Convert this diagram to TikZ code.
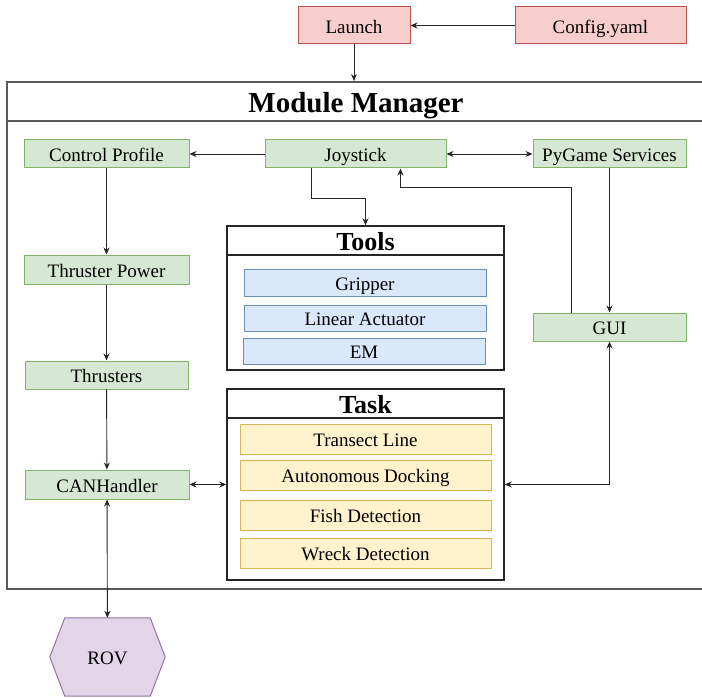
\documentclass[tikz,border=0pt]{standalone}
\usepackage{fontspec}
\setmainfont{Liberation Serif}
\newfontfamily\diagramfont{Liberation Serif}
\usepackage{xcolor}
\usepackage{tikz}
\usetikzlibrary{arrows.meta}
\usetikzlibrary{backgrounds}
\definecolor{redfill}{HTML}{F8CECC}
\definecolor{redline}{HTML}{B85450}
\definecolor{greenfill}{HTML}{D5E8D4}
\definecolor{greenline}{HTML}{82B366}
\definecolor{bluefill}{HTML}{DAE8FC}
\definecolor{blueline}{HTML}{6C8EBF}
\definecolor{yellowfill}{HTML}{FFF2CC}
\definecolor{yellowline}{HTML}{D6B656}
\definecolor{purplefill}{HTML}{E1D5E7}
\definecolor{purpleline}{HTML}{9673A6}
\tikzset{box/.style={draw, line width=1pt, inner sep=0pt, minimum height=28, text height=15.5, text depth=0, font=\diagramfont\fontsize{19}{22}\selectfont}}
\tikzset{redbox/.style={box, fill=redfill, draw=redline, minimum height=37}}
\tikzset{modbox/.style={box, fill=greenfill, draw=greenline}}
\tikzset{toolbox/.style={box, fill=bluefill, draw=blueline, minimum width=242, minimum height=26}}
\tikzset{taskbox/.style={box, fill=yellowfill, draw=yellowline, minimum width=251, minimum height=30}}
\tikzset{group/.style={draw=black!85, line width=1.5pt, inner sep=0pt, minimum width=277}}
\tikzset{grouptitle/.style={group, minimum height=29, text height=20, text depth=0, font=\diagramfont\bfseries\fontsize{26}{30}\selectfont}}
\tikzset{link/.style={draw=black!85, line width=0.9pt}}

\begin{document}
\begin{tikzpicture}[x=1pt, y=-1pt, >={Stealth[length=7pt,width=6pt]}]
\useasboundingbox (0,0) rectangle (702,698);
\node[redbox, minimum width=112] (launch) at (354,25.5) {Launch};
\node[redbox, minimum width=171] (config) at (600.5,25.5) {Config.yaml};

\node[group, draw=black!65, line width=2pt, minimum width=698, minimum height=507] (mm) at (356,335.5) {};
\node[group, draw=black!65, line width=2pt, minimum width=698, minimum height=39, text height=22, text depth=0, font=\diagramfont\bfseries\fontsize{29}{34}\selectfont] (mmtitle) at (356,101.5) {Module Manager};

\node[modbox, minimum width=165] (ctrl) at (106.5,154) {Control Profile};
\node[modbox, minimum width=181] (joy) at (355.5,154) {Joystick};
\node[modbox, minimum width=153] (pygame) at (609.5,154) {PyGame Services};
\node[modbox, minimum width=165, minimum height=29] (thrpow) at (106.5,269.5) {Thruster Power};
\node[modbox, minimum width=163] (thr) at (106.5,375) {Thrusters};
\node[modbox, minimum width=164, minimum height=29] (can) at (107,484.5) {CANHandler};
\node[modbox, minimum width=153] (gui) at (609.5,327) {GUI};

\node[group, minimum height=144] (tools) at (365.5,298) {};
\node[grouptitle] (toolstitle) at (365.5,240.5) {Tools};
\node[toolbox, minimum height=27] (gripper) at (365,282.5) {Gripper};
\node[toolbox] (linact) at (365,318) {Linear Actuator};
\node[toolbox] (em) at (364,351) {EM};

\node[group, minimum height=191] (task) at (365.5,484.5) {};
\node[grouptitle] (tasktitle) at (365.5,403.5) {Task};
\node[taskbox] (transect) at (365.5,439) {Transect Line};
\node[taskbox] (docking) at (365.5,475) {Autonomous Docking};
\node[taskbox] (fish) at (365.5,515) {Fish Detection};
\node[taskbox] (wreck) at (365.5,553) {Wreck Detection};

\node[inner sep=0pt, minimum width=115, minimum height=78, text height=15.5, text depth=0, font=\diagramfont\fontsize{19}{22}\selectfont] (rov) at (107.5,657) {ROV};
\begin{scope}[on background layer]
\filldraw[fill=purplefill, draw=purpleline, line width=1pt] (rov.west) -- ([xshift=15]rov.north west) -- ([xshift=-15]rov.north east) -- (rov.east) -- ([xshift=-15]rov.south east) -- ([xshift=15]rov.south west) -- cycle;
\end{scope}

\draw[link, ->] (config) -- (launch);
\draw[link, ->] (launch) -- (launch |- mm.north);
\draw[link, ->] (joy) -- (ctrl);
\draw[link, <->] (joy) -- (pygame);
\draw[link, ->] ([xshift=-44]joy.south) -- ++(0,30) -| (tools.north);
\draw[link, ->] ([xshift=-38]gui.north) -- ++(0,-125) -| ([xshift=45]joy.south);
\draw[link, ->] (pygame) -- (gui);
\draw[link, ->] (ctrl) -- (thrpow);
\draw[link, ->] (thrpow) -- (thr);
\draw[link, ->] (thr) -- (can);
\draw[link, <->] (can.east) -- (can.east -| task.west);
\draw[link, <->] (gui) |- (task.east);
\draw[link, <->] (can) -- (rov);
\end{tikzpicture}
\end{document}
